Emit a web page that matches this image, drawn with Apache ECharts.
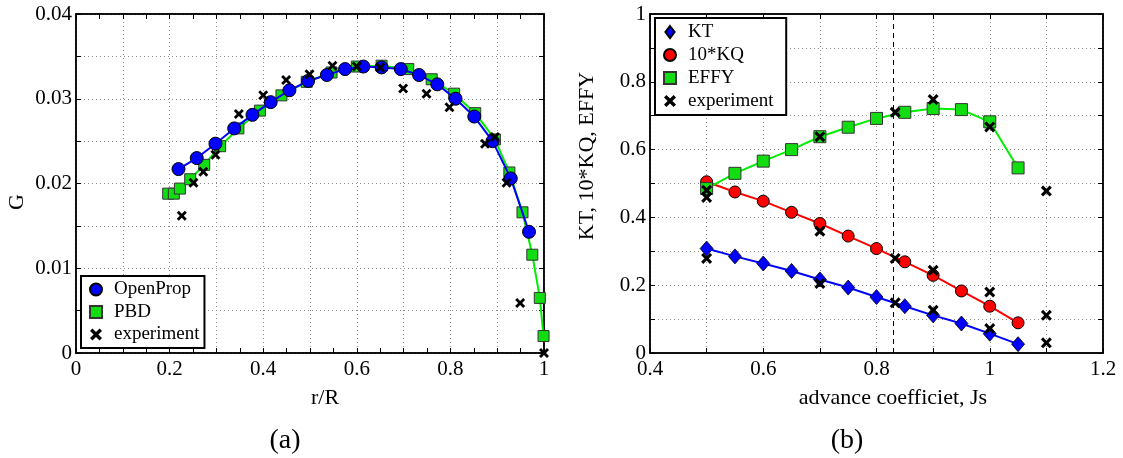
<!DOCTYPE html>
<html>
<head>
<meta charset="utf-8">
<script src="https://cdn.jsdelivr.net/npm/echarts@6/dist/echarts.min.js"></script>
<style>
html,body{margin:0;padding:0;background:#fff;}
#chart{width:1123px;height:458px;}
</style>
</head>
<body>
<div id="chart"></div>
<script>
// ---- Panel (a): circulation distribution ----
const rOpenProp = [0.219,0.258,0.298,0.338,0.377,0.416,0.456,0.496,0.536,0.575,0.614,0.653,0.694,0.733,0.772,0.811,0.851,0.890,0.929,0.968];
const gOpenProp = [0.0217,0.0230,0.0247,0.0265,0.0281,0.0296,0.0310,0.0321,0.0328,0.0335,0.0338,0.0337,0.0335,0.0328,0.0317,0.0300,0.0279,0.0250,0.0206,0.0143];
const rPBD = [0.197,0.209,0.222,0.244,0.274,0.308,0.347,0.393,0.439,0.493,0.546,0.600,0.653,0.710,0.760,0.808,0.853,0.895,0.926,0.954,0.975,0.991,0.999];
const gPBD = [0.0188,0.0188,0.0194,0.0205,0.0222,0.0244,0.0265,0.0286,0.0304,0.0320,0.0331,0.0338,0.0339,0.0335,0.0323,0.0306,0.0283,0.0252,0.0213,0.0166,0.0116,0.0065,0.0020];
const rExpA = [0.226,0.251,0.272,0.298,0.348,0.400,0.449,0.499,0.548,0.600,0.650,0.699,0.749,0.798,0.874,0.895,0.920,0.949,1.000];
const gExpA = [0.0162,0.0201,0.0214,0.0234,0.0282,0.0304,0.0322,0.0329,0.0339,0.0338,0.0337,0.0312,0.0306,0.0290,0.0247,0.0255,0.0201,0.0059,0.0000];

// ---- Panel (b): open-water performance ----
const J = [0.5,0.55,0.6,0.65,0.7,0.75,0.8,0.85,0.9,0.95,1.0,1.05];
const KT = [0.308,0.285,0.264,0.242,0.217,0.193,0.165,0.138,0.111,0.087,0.057,0.026];
const KQ10 = [0.505,0.475,0.448,0.415,0.382,0.345,0.308,0.269,0.229,0.183,0.138,0.089];
const EFFY = [0.485,0.530,0.566,0.600,0.638,0.666,0.692,0.710,0.721,0.718,0.682,0.546];
const Jexp = [0.5,0.5,0.5,0.7,0.7,0.7,0.833,0.833,0.833,0.9,0.9,0.9,1.0,1.0,1.0,1.1,1.1,1.1];
const valExp = [0.279,0.459,0.480,0.205,0.359,0.638,0.148,0.279,0.710,0.126,0.244,0.748,0.072,0.180,0.667,0.030,0.111,0.478];
const Jdesign = 0.833;

// ---- Text ----
const labelsA = {x:'r/R', y:'G', sub:'(a)'};
const labelsB = {x:'advance coefficiet, Js', y:'KT, 10*KQ, EFFY', sub:'(b)'};
const legendA = ['OpenProp','PBD','experiment'];
const legendB = ['KT','10*KQ','EFFY','experiment'];

const zip = (a,b) => a.map((v,i)=>[v,b[i]]);
const FONT = 'Liberation Serif';
const crossPath = 'path://M0,2 L2,0 L5,3 L8,0 L10,2 L7,5 L10,8 L8,10 L5,7 L2,10 L0,8 L3,5 Z';
const squarePath = 'path://M0,0H10V10H0Z';
const diamondPath = 'path://M5,0L10,6.5L5,13L0,6.5Z';

function fmtStep(step){
  return function(v){
    const k = Math.round(v/step);
    if (k % 2 !== 0) return '';
    const val = +(k*step).toFixed(6);
    return String(val);
  };
}
const grid = {left:76, top:14, width:468, height:339};
const grid2 = {left:650, top:14, width:453, height:339};
const splitDotted = {show:true, lineStyle:{color:'#8a8a8a', width:1, type:[1,3]}};
const axisLineBlack = {show:true, onZero:false, lineStyle:{color:'#000', width:1.5}};
const labelStyle = {fontFamily:FONT, fontSize:21, color:'#000'};

function mainX(gi, min, max, step, minor){
  return {type:'value', gridIndex:gi, min, max, interval:step, position:'bottom',
    axisLine:axisLineBlack,
    axisTick:{show:true, inside:true, length:5, lineStyle:{color:'#000'}},
    minorTick:{show:!!minor, splitNumber:2, length:5, lineStyle:{color:'#000'}},
    axisLabel:Object.assign({margin:6, formatter:fmtStep(step), showMinLabel:true, showMaxLabel:true}, labelStyle),
    splitLine:splitDotted};
}
function mainY(gi, min, max, step){
  return {type:'value', gridIndex:gi, min, max, interval:step, position:'left',
    axisLine:axisLineBlack,
    axisTick:{show:true, inside:true, length:5, lineStyle:{color:'#000'}},
    axisLabel:Object.assign({margin:4, formatter:fmtStep(step), showMinLabel:true, showMaxLabel:true}, labelStyle),
    splitLine:splitDotted};
}
function frameAxis(kind, gi, min, max, step, minor){
  return {type:'value', gridIndex:gi, min, max, interval:step,
    position: kind==='x' ? 'top' : 'right',
    axisLine:axisLineBlack,
    axisTick:{show:true, inside:true, length:5, lineStyle:{color:'#000'}},
    minorTick:{show:!!minor, splitNumber:2, length:5, lineStyle:{color:'#000'}},
    axisLabel:{show:false}, splitLine:{show:false}};
}
const txt = (text, x, y, size, rot) => ({type:'text', x, y, rotation:rot||0,
  style:{text, fontFamily:FONT, fontSize:size, fill:'#000', textAlign:'center', textVerticalAlign:'middle', align:'center', verticalAlign:'middle'}});

const chart = echarts.init(document.getElementById('chart'), null, {renderer:'canvas'});
const option = {
  animation:false,
  backgroundColor:'#fff',
  grid:[Object.assign({show:true, borderColor:'#000', borderWidth:1.5, backgroundColor:'transparent'}, grid),
        Object.assign({show:true, borderColor:'#000', borderWidth:1.5, backgroundColor:'transparent'}, grid2)],
  xAxis:[mainX(0,0,1,0.1,true), mainX(1,0.4,1.2,0.1,false),
         frameAxis('x',0,0,1,0.1,true), frameAxis('x',1,0.4,1.2,0.1,false)],
  yAxis:[mainY(0,0,0.04,0.005), mainY(1,0,1,0.1),
         frameAxis('y',0,0,0.04,0.005,false), frameAxis('y',1,0,1,0.1,false)],
  legend:[
    {left:81, top:276, orient:'vertical', itemWidth:26, itemHeight:12, itemGap:3.5,
     padding:[4,5,4,8], borderColor:'#000', borderWidth:2, backgroundColor:'#fff',
     textStyle:{fontFamily:FONT, fontSize:19, color:'#000', lineHeight:19},
     data:[{name:legendA[0], icon:'circle'},{name:legendA[1], icon:squarePath},{name:legendA[2], icon:crossPath}]},
    {left:655, top:18, orient:'vertical', itemWidth:26, itemHeight:12, itemGap:4,
     padding:[4.5,8,4.5,8], borderColor:'#000', borderWidth:2, backgroundColor:'#fff',
     textStyle:{fontFamily:FONT, fontSize:19, color:'#000', lineHeight:19},
     data:[{name:legendB[0], icon:diamondPath},{name:legendB[1], icon:'circle'},{name:legendB[2], icon:squarePath},{name:legendB[3]+' ', icon:crossPath}]}
  ],
  graphic:[
    txt(labelsA.y, 17, 202, 22, Math.PI/2),
    txt(labelsA.x, 325, 398, 22),
    txt(labelsA.sub, 285, 441, 28),
    txt(labelsB.y, 587, 156, 22, Math.PI/2),
    txt(labelsB.x, 893, 398, 22),
    txt(labelsB.sub, 847, 441, 28)
  ],
  series:[
    {name:legendA[1], type:'line', xAxisIndex:0, yAxisIndex:0, data:zip(rPBD,gPBD), z:2,
     symbol:'rect', symbolSize:11, lineStyle:{color:'#00ee00', width:2},
     itemStyle:{color:'#11dd11', borderColor:'#333', borderWidth:1}},
    {name:legendA[0], type:'line', xAxisIndex:0, yAxisIndex:0, data:zip(rOpenProp,gOpenProp), z:3,
     symbol:'circle', symbolSize:13, lineStyle:{color:'#0000ff', width:2},
     itemStyle:{color:'#0000ff', borderColor:'#000', borderWidth:1}},
    {name:legendA[2], type:'scatter', xAxisIndex:0, yAxisIndex:0, data:zip(rExpA,gExpA), z:4,
     symbol:crossPath, symbolSize:10, itemStyle:{color:'#000', opacity:1}},
    {name:legendB[0], type:'line', xAxisIndex:1, yAxisIndex:1, data:zip(J,KT), z:2,
     symbol:diamondPath, symbolSize:[13,15], lineStyle:{color:'#0000ff', width:2},
     itemStyle:{color:'#0000ff', borderColor:'#000', borderWidth:0.8},
     markLine:{silent:true, symbol:['none','none'], label:{show:false},
       lineStyle:{color:'#000', type:[5,4], width:1}, data:[{xAxis:Jdesign}]}},
    {name:legendB[1], type:'line', xAxisIndex:1, yAxisIndex:1, data:zip(J,KQ10), z:2,
     symbol:'circle', symbolSize:12, lineStyle:{color:'#ff0000', width:2},
     itemStyle:{color:'#ff0000', borderColor:'#000', borderWidth:1}},
    {name:legendB[2], type:'line', xAxisIndex:1, yAxisIndex:1, data:zip(J,EFFY), z:2,
     symbol:'rect', symbolSize:12, lineStyle:{color:'#00ee00', width:2},
     itemStyle:{color:'#11dd11', borderColor:'#333', borderWidth:1}},
    {name:legendB[3]+' ', type:'scatter', xAxisIndex:1, yAxisIndex:1, data:zip(Jexp,valExp), z:4,
     symbol:crossPath, symbolSize:11, itemStyle:{color:'#000', opacity:1}}
  ]
};
chart.setOption(option);
</script>
</body>
</html>
